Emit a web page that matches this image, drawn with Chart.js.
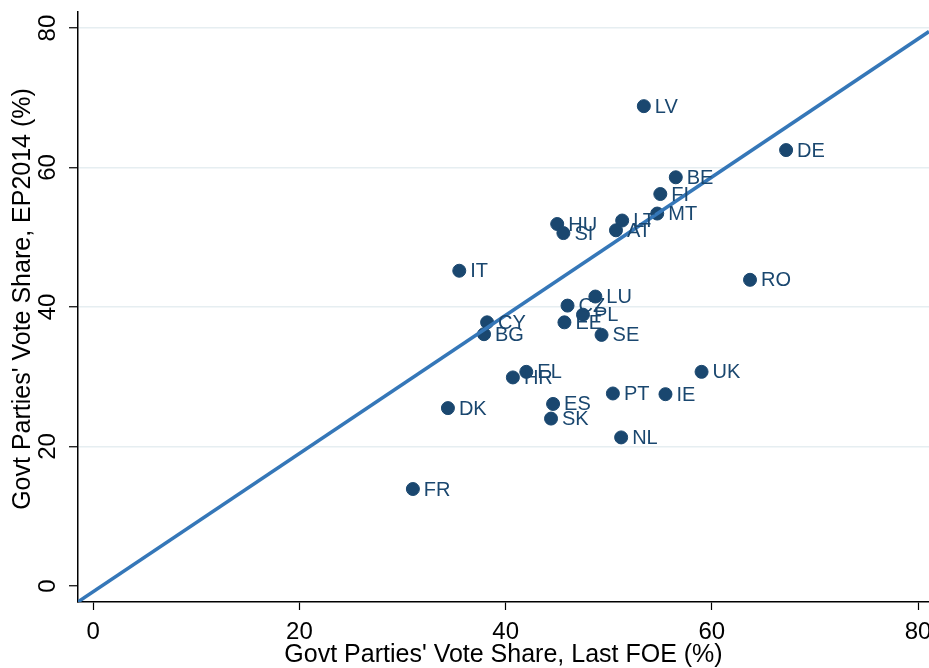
<!DOCTYPE html>
<html>
<head>
<meta charset="utf-8">
<script src="https://cdn.jsdelivr.net/npm/chart.js@4.4.1/dist/chart.umd.min.js"></script>
<style>
  html, body { margin: 0; padding: 0; background: #fff; }
  #wrap { width: 929px; height: 668px; }
</style>
</head>
<body>
<div id="wrap"><canvas id="scatter"></canvas></div>
<script>
// country codes, last FOE govt share (x), EP2014 govt share (y)
var countries = ['LV', 'DE', 'BE', 'FI', 'MT', 'LT', 'AT', 'HU', 'SI', 'IT', 'RO', 'LU', 'CZ', 'PL',
  'EE', 'SE', 'CY', 'BG', 'EL', 'HR', 'UK', 'PT', 'IE', 'DK', 'ES', 'SK', 'NL', 'FR'];
var foeShare = [53.4, 67.2, 56.5, 55.0, 54.7, 51.3, 50.7, 45.0, 45.6, 35.5, 63.7, 48.7, 46.0, 47.5,
  45.7, 49.3, 38.2, 37.9, 42.0, 40.7, 59.0, 50.4, 55.5, 34.4, 44.6, 44.4, 51.2, 31.0];
var epShare = [68.8, 62.5, 58.6, 56.2, 53.4, 52.4, 51.0, 51.9, 50.6, 45.2, 43.9, 41.5, 40.2, 38.9,
  37.8, 36.0, 37.8, 36.1, 30.7, 29.9, 30.7, 27.6, 27.5, 25.5, 26.1, 24.0, 21.3, 13.9];
var refLineX = [-1.5, 81.06];
var refLineY = [-2.3, 79.5];
var xTicks = [0, 20, 40, 60, 80];
var yTicks = [0, 20, 40, 60, 80];

var navy = '#1a476f';
var fontFam = '"Liberation Sans", Arial, Helvetica, sans-serif';

var points = countries.map(function (c, i) {
  return { x: foeShare[i], y: epShare[i], label: c };
});
var linePts = refLineX.map(function (x, i) {
  return { x: x, y: refLineY[i] };
});

// country labels to the right of each dot
var pointLabels = {
  id: 'pointLabels',
  afterDatasetsDraw: function (chart) {
    var ctx = chart.ctx;
    var meta = chart.getDatasetMeta(1);
    ctx.save();
    ctx.fillStyle = navy;
    ctx.font = '20px ' + fontFam;
    ctx.textAlign = 'left';
    ctx.textBaseline = 'middle';
    meta.data.forEach(function (el, i) {
      ctx.fillText(countries[i], el.x + 11, el.y + 1);
    });
    ctx.restore();
  }
};

// tick labels (y ones vertical, Stata style) and the y title
var axisText = {
  id: 'axisText',
  afterDraw: function (chart) {
    var ctx = chart.ctx;
    var xs = chart.scales.x;
    var ys = chart.scales.y;
    ctx.save();
    ctx.fillStyle = '#000';
    ctx.textAlign = 'center';
    ctx.textBaseline = 'middle';
    ctx.font = '24px ' + fontFam;
    xTicks.forEach(function (v) {
      ctx.fillText(String(v), xs.getPixelForValue(v), 632);
    });
    yTicks.forEach(function (v) {
      ctx.save();
      ctx.translate(48, ys.getPixelForValue(v));
      ctx.rotate(-Math.PI / 2);
      ctx.fillText(String(v), 0, 0);
      ctx.restore();
    });
    ctx.font = '25px ' + fontFam;
    ctx.translate(23, 299);
    ctx.rotate(-Math.PI / 2);
    ctx.fillText("Govt Parties' Vote Share, EP2014 (%)", 0, 0);
    ctx.restore();
  }
};

new Chart(document.getElementById('scatter'), {
  type: 'scatter',
  data: {
    datasets: [{
      type: 'line',
      data: linePts,
      borderColor: '#3577b8',
      borderWidth: 3.5,
      pointRadius: 0,
      fill: false
    }, {
      data: points,
      backgroundColor: navy,
      borderColor: navy,
      pointRadius: 6.5,
      pointHoverRadius: 6.5
    }]
  },
  options: {
    responsive: true,
    maintainAspectRatio: false,
    animation: false,
    layout: { autoPadding: false, padding: { top: 12, right: 0, left: 0, bottom: 0 } },
    plugins: {
      legend: { display: false },
      tooltip: { enabled: false }
    },
    scales: {
      x: {
        type: 'linear',
        min: -1.48,
        max: 81.06,
        afterFit: function (s) { s.height = 66; },
        afterBuildTicks: function (s) {
          s.ticks = xTicks.map(function (v) { return { value: v }; });
        },
        border: { color: '#000', width: 1.5 },
        grid: { drawOnChartArea: false, drawTicks: true, tickLength: 8, tickColor: '#000', tickWidth: 1.2 },
        ticks: { display: false },
        title: {
          display: true,
          text: "Govt Parties' Vote Share, Last FOE (%)",
          color: '#000',
          font: { size: 25, family: fontFam, lineHeight: 1 },
          padding: { top: 0, bottom: 0 }
        }
      },
      y: {
        type: 'linear',
        min: -2.3,
        max: 82.3,
        afterFit: function (s) { s.width = 78; },
        afterBuildTicks: function (s) {
          s.ticks = yTicks.map(function (v) { return { value: v }; });
        },
        border: { color: '#000', width: 1.5 },
        grid: {
          color: function (c) { return c.tick && c.tick.value === 0 ? 'rgba(0,0,0,0)' : '#e6eef1'; },
          lineWidth: 1.5,
          tickLength: 9,
          tickColor: '#000',
          tickWidth: 1.2
        },
        ticks: { display: false }
      }
    }
  },
  plugins: [pointLabels, axisText]
});
</script>
</body>
</html>
